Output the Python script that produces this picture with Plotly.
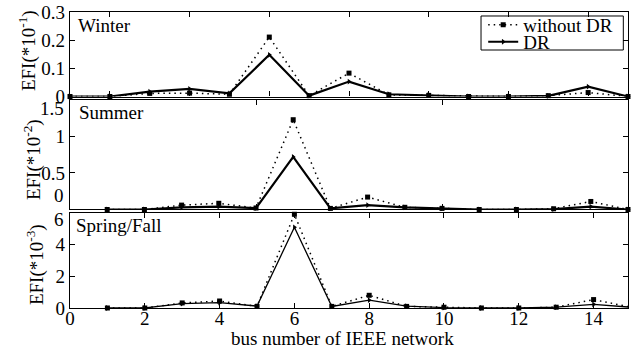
import plotly.graph_objects as go

buses = list(range(1, 16))

winter_nodr = [0, 0, 0.011, 0.012, 0.008, 0.211, 0.003, 0.083, 0.006, 0.004, 0, 0, 0.003, 0.014, 0]
winter_dr = [0, 0, 0.017, 0.027, 0.011, 0.148, 0.003, 0.053, 0.008, 0.005, 0, 0, 0.002, 0.035, 0]

summer_nodr = [0, 0, 0.06, 0.085, 0.02, 1.23, 0.015, 0.17, 0.03, 0.015, 0, 0, 0.01, 0.11, 0]
summer_dr = [0, 0, 0.03, 0.04, 0.02, 0.72, 0.015, 0.06, 0.03, 0.015, 0, 0, 0.005, 0.04, 0]

spring_nodr = [0, 0, 0.32, 0.44, 0.1, 5.9, 0.1, 0.8, 0.1, 0.05, 0, 0, 0.05, 0.53, 0.05]
spring_dr = [0, 0, 0.28, 0.34, 0.12, 5.08, 0.1, 0.49, 0.12, 0.03, 0, 0, 0.05, 0.23, 0.05]

x_ticks_bottom = [0, 2, 4, 6, 8, 10, 12, 14]
y2_ticks = [0, 0.5, 1, 1.5]
y2_text = [" ", "0.5", "1", " "]
y3_ticks = [0, 2, 4, 6]
y3_text = ["0", "2", "4", " "]

FONT = "Liberation Serif, Times New Roman, serif"
FS = 19
DOT = "1.5px,4px"

fig = go.Figure()


def add_pair(nodr, dr, xa, ya, show, dr_width):
    fig.add_trace(go.Scatter(
        x=buses, y=nodr, xaxis=xa, yaxis=ya, mode="lines+markers",
        name="without DR", showlegend=show, legend="legend", cliponaxis=False,
        line=dict(color="black", width=1.5, dash=DOT),
        marker=dict(symbol="square", size=5, color="black")))
    fig.add_trace(go.Scatter(
        x=buses, y=dr, xaxis=xa, yaxis=ya, mode="lines+markers",
        name="DR", showlegend=show, legend="legend2", cliponaxis=False,
        line=dict(color="black", width=dr_width),
        marker=dict(symbol="triangle-right", size=5, color="black")))


add_pair(winter_nodr, winter_dr, "x", "y", True, 2.2)
add_pair(summer_nodr, summer_dr, "x2", "y2", False, 2.2)
add_pair(spring_nodr, spring_dr, "x3", "y3", False, 1.3)

axis_common = dict(showline=True, linecolor="black", linewidth=1.2, mirror="ticks",
                   ticks="inside", ticklen=5, tickcolor="black", tickwidth=1.2,
                   showgrid=False, zeroline=False, automargin=False,
                   tickfont=dict(family=FONT, size=FS, color="black"))

legend_common = dict(xanchor="left", yanchor="middle", bgcolor="rgba(0,0,0,0)",
                     borderwidth=0, font=dict(family=FONT, size=FS, color="black"))

fig.update_layout(
    width=644, height=357,
    paper_bgcolor="white", plot_bgcolor="white",
    margin=dict(l=70, r=16, t=12, b=49, autoexpand=False),
    font=dict(family=FONT, size=FS, color="black"),
    xaxis=dict(domain=[0, 1], anchor="y", range=[1, 15], tick0=0, dtick=2,
               showticklabels=False, **axis_common),
    yaxis=dict(domain=[0.7145, 1.0], anchor="x", range=[0, 0.3], dtick=0.1,
               **axis_common),
    xaxis2=dict(domain=[0, 1], anchor="y2", range=[0, 15], tick0=0, dtick=5,
                showticklabels=False, **axis_common),
    yaxis2=dict(domain=[0.3328, 0.7027], anchor="x2", range=[0, 1.5],
                tickmode="array", tickvals=y2_ticks, ticktext=y2_text, **axis_common),
    xaxis3=dict(domain=[0, 1], anchor="y3", range=[0, 14.92],
                tickmode="array", tickvals=x_ticks_bottom, ticklabelstandoff=-7,
                **axis_common),
    yaxis3=dict(domain=[0, 0.322], anchor="x3", range=[0, 6],
                tickmode="array", tickvals=y3_ticks, ticktext=y3_text, **axis_common),
    legend=dict(x=0.7405, y=0.956, **legend_common),
    legend2=dict(x=0.7405, y=0.899, **legend_common),
    shapes=[dict(type="rect", xref="paper", yref="paper", x0=0.7366, x1=0.9916,
                 y0=0.8716, y1=0.9865, line=dict(color="black", width=1),
                 fillcolor="white", layer="below")],
)

ann = []
# panel labels
ann.append(dict(text="Winter", xref="paper", yref="paper", x=0.0108, y=0.956,
                xanchor="left", yanchor="middle", showarrow=False))
ann.append(dict(text="Summer", xref="paper", yref="paper", x=0.0125, y=0.66,
                xanchor="left", yanchor="middle", showarrow=False))
ann.append(dict(text="Spring/Fall", xref="paper", yref="paper", x=0.0072, y=0.2804,
                xanchor="left", yanchor="middle", showarrow=False))
# y titles
ann.append(dict(text="EFI(*10<sup>-1</sup>)", xref="paper", yref="paper", x=-0.077, y=0.868,
                xanchor="center", yanchor="middle", textangle=-90, showarrow=False))
ann.append(dict(text="EFI(*10<sup>-2</sup>)", xref="paper", yref="paper", x=-0.068, y=0.5,
                xanchor="center", yanchor="middle", textangle=-90, showarrow=False))
ann.append(dict(text="EFI(*10<sup>-3</sup>)", xref="paper", yref="paper", x=-0.0627, y=0.145,
                xanchor="center", yanchor="middle", textangle=-90, showarrow=False))
# x title
ann.append(dict(text="bus number of IEEE network", xref="paper", yref="paper",
                x=0.4875, y=-0.104, xanchor="center", yanchor="middle", showarrow=False))
# shifted tick labels
ann.append(dict(text="0", xref="paper", yref="y2", x=-0.007, y=0, xanchor="right",
                yanchor="middle", yshift=14, showarrow=False))
ann.append(dict(text="1.5", xref="paper", yref="y2", x=-0.007, y=1.5, xanchor="right",
                yanchor="middle", yshift=-8, showarrow=False))
ann.append(dict(text="6", xref="paper", yref="y3", x=-0.007, y=6, xanchor="right",
                yanchor="middle", yshift=-7, showarrow=False))
fig.update_layout(annotations=ann)

fig.write_html("out.html", config={"displayModeBar": False},
               post_script="document.body.style.margin='0px';document.body.style.padding='0px';")
